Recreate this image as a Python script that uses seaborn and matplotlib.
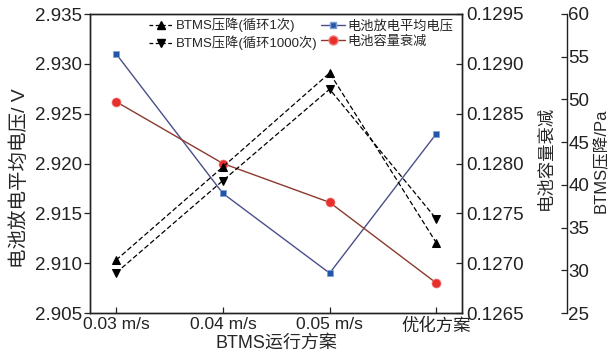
import matplotlib
matplotlib.use("Agg")
import matplotlib.pyplot as plt
from matplotlib.lines import Line2D
import seaborn as sns
import pandas as pd
import numpy as np

categories = ["0.03 m/s", "0.04 m/s", "0.05 m/s", "优化方案"]
voltage = [2.931, 2.917, 2.909, 2.923]
capacity_fade = [0.12862, 0.12800, 0.12761, 0.12680]
dp_cycle1 = [31.2, 42.1, 53.1, 33.2]
dp_cycle1000 = [29.7, 40.5, 51.2, 36.0]

left_ticks = [2.905, 2.910, 2.915, 2.920, 2.925, 2.930, 2.935]
right_ticks = [0.1265, 0.1270, 0.1275, 0.1280, 0.1285, 0.1290, 0.1295]
third_ticks = [25, 30, 35, 40, 45, 50, 55, 60]

sns.set_style("ticks")
plt.rcParams['font.family'] = ['Liberation Sans', 'Noto Sans CJK SC']
plt.rcParams['axes.unicode_minus'] = False

df = pd.DataFrame({
    "pos": np.arange(len(categories)),
    "scheme": categories,
    "voltage": voltage,
    "fade": capacity_fade,
    "dp1": dp_cycle1,
    "dp1000": dp_cycle1000,
})

fig = plt.figure(figsize=(6.12, 3.62), dpi=100)
ax = fig.add_axes([90/612, 1-313/362, 372/612, 299/362])
ax2 = ax.twinx()
ax3 = ax.twinx()

blue_line = "#4a4f8a"
blue_mk = "#2456a8"
red_line = "#8a3a2c"
red_mk = "#e6302b"

sns.lineplot(data=df, x="pos", y="voltage", ax=ax, color=blue_line, lw=1.0,
             marker="s", markersize=5, markerfacecolor=blue_mk,
             markeredgecolor="#7f9fd0", markeredgewidth=0.5, legend=False)
sns.lineplot(data=df, x="pos", y="fade", ax=ax2, color=red_line, lw=1.0,
             marker="o", markersize=6.5, markerfacecolor=red_mk,
             markeredgecolor="#f08080", markeredgewidth=0.5, legend=False)
sns.lineplot(data=df, x="pos", y="dp1", ax=ax3, color="black", lw=0.9,
             linestyle=(0, (4, 2)), marker="^", markersize=6,
             markerfacecolor="black", markeredgecolor="black", legend=False)
sns.lineplot(data=df, x="pos", y="dp1000", ax=ax3, color="black", lw=0.9,
             linestyle=(0, (4, 2)), marker="v", markersize=6,
             markerfacecolor="black", markeredgecolor="black", legend=False)

# x axis
ax.set_xlim(-0.245, 3.24)
ax.set_xticks(df["pos"])
ax.set_xticklabels(categories, fontsize=12.5)
ax.set_xlabel("BTMS运行方案", fontsize=13, labelpad=1)
ax.tick_params(axis="x", direction="in", length=4, pad=3)

# left axis
ax.set_ylim(2.905, 2.935)
ax.set_yticks(left_ticks)
ax.set_yticklabels([f"{v:.3f}" for v in left_ticks], fontsize=13.5)
ax.tick_params(axis="y", direction="out", length=4, pad=2)
ax.set_ylabel("电池放电平均电压/ V", fontsize=14)
ax.yaxis.set_label_coords(-0.19, 0.45)
ax.yaxis.label.set_va("center")

# right axis
ax2.set_ylim(0.1265, 0.1295)
ax2.set_yticks(right_ticks)
ax2.set_yticklabels([f"{v:.4f}" for v in right_ticks], fontsize=13.5)
ax2.tick_params(axis="y", direction="in", length=4, pad=3)
ax2.set_ylabel("电池容量衰减", fontsize=12.5)
ax2.yaxis.set_label_coords(1.223, 0.52)
ax2.yaxis.label.set_rotation(90)
ax2.yaxis.label.set_va("center")

# third axis
ax3.spines["right"].set_position(("axes", 1.282))
ax3.set_ylim(25, 60)
ax3.set_yticks(third_ticks)
ax3.set_yticklabels([str(v) for v in third_ticks], fontsize=13.5)
ax3.tick_params(axis="y", direction="in", length=4, pad=1)
ax3.set_ylabel("BTMS压降/Pa", fontsize=12)
ax3.yaxis.set_label_coords(1.375, 0.51)
ax3.yaxis.label.set_rotation(90)
ax3.yaxis.label.set_va("center")

for a in (ax, ax2, ax3):
    for s in a.spines.values():
        s.set_linewidth(1.0)
        s.set_color("#222222")
    a.tick_params(colors="#222222", width=0.9)
for name in ("top", "left", "bottom"):
    ax3.spines[name].set_visible(False)
ax.spines["top"].set_visible(True)
ax.spines["right"].set_visible(True)

handles = [
    Line2D([], [], color="black", lw=0.9, linestyle=(0, (3, 2)), marker="^",
           markersize=6, label="BTMS压降(循环1次)"),
    Line2D([], [], color="black", lw=0.9, linestyle=(0, (3, 2)), marker="v",
           markersize=6, label="BTMS压降(循环1000次)"),
    Line2D([], [], color=blue_line, lw=1.0, marker="s", markersize=5,
           markerfacecolor=blue_mk, markeredgecolor="#7f9fd0", label="电池放电平均电压"),
    Line2D([], [], color=red_line, lw=1.0, marker="o", markersize=6.5,
           markerfacecolor=red_mk, markeredgecolor="#f08080", label="电池容量衰减"),
]
leg = ax3.legend(handles=handles, ncol=2, loc="upper left",
                 bbox_to_anchor=(0.145, 1.005), frameon=False, fontsize=9.5,
                 handlelength=1.8, handletextpad=0.2, columnspacing=0.3,
                 labelspacing=0.25, borderaxespad=0.0)

fig.savefig("out.png", dpi=100)
